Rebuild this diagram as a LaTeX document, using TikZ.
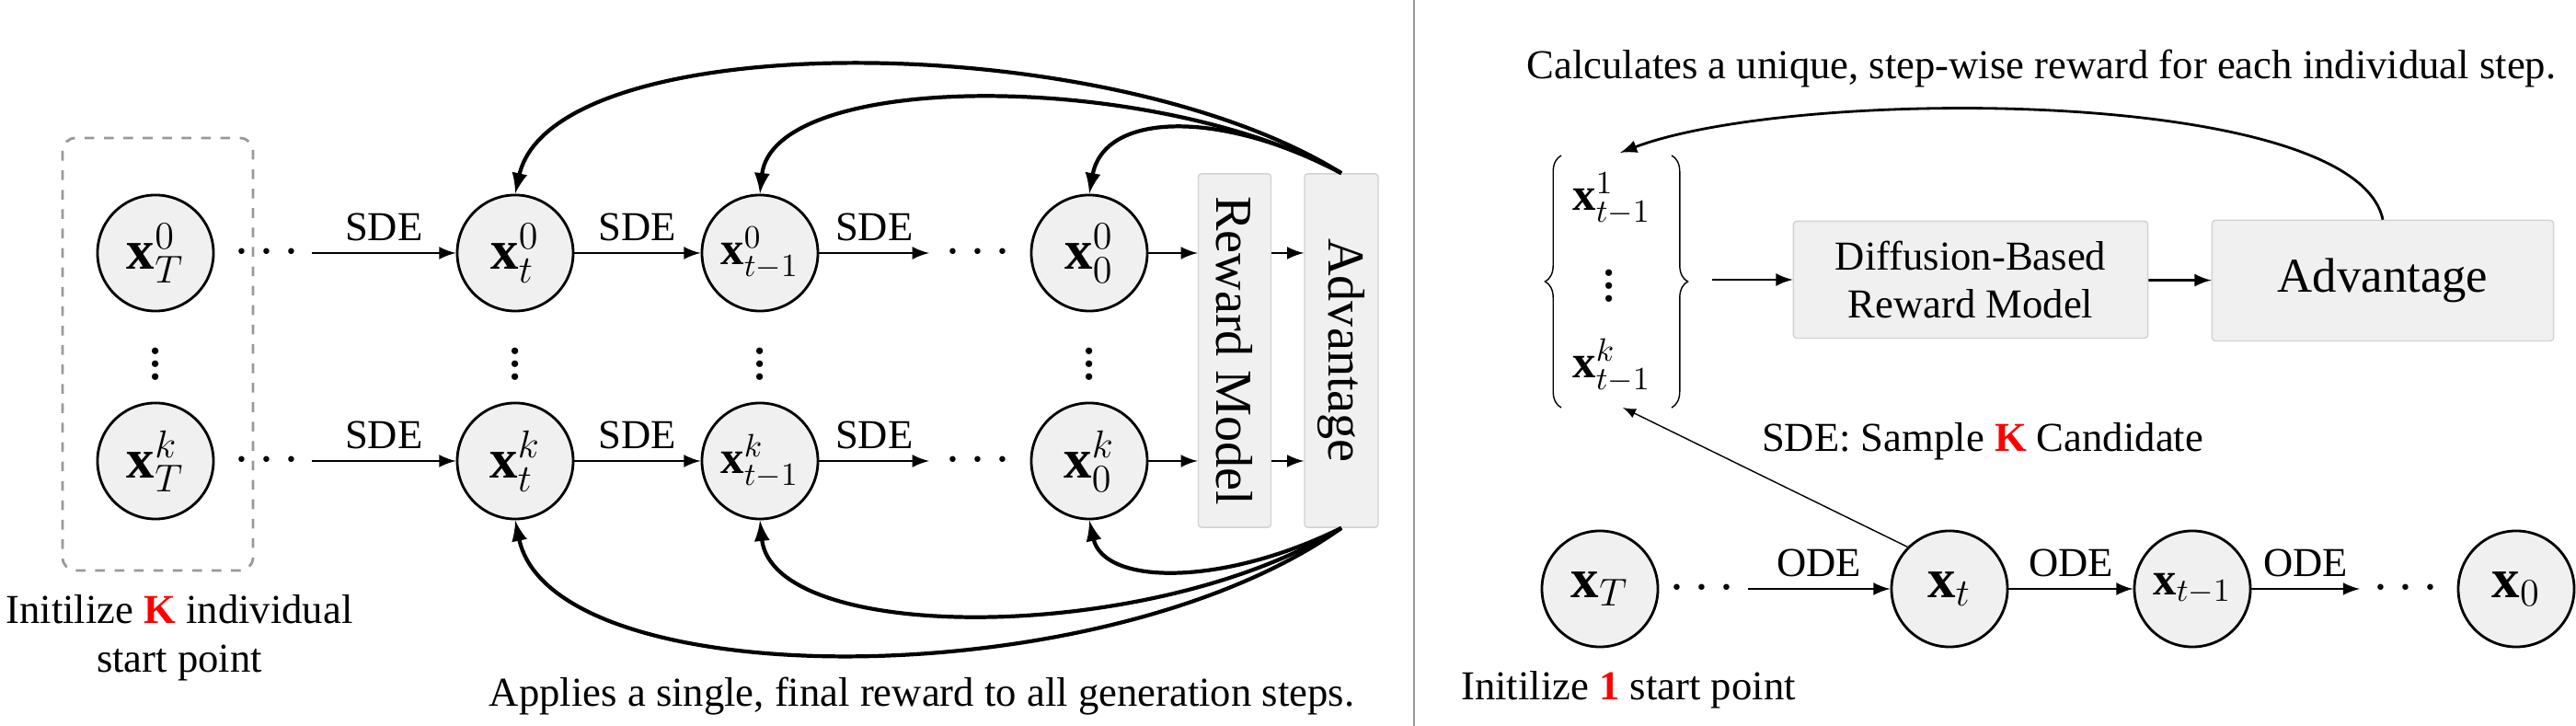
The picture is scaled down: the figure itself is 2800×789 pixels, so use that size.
\documentclass[tikz,border=0pt]{standalone}
\usepackage{fontspec}
\setmainfont{Liberation Serif}
\usetikzlibrary{decorations.pathreplacing}

\begin{document}
\begin{tikzpicture}[x=0.01cm, y=-0.01cm, every node/.style={font=\fontsize{12.7}{15}\selectfont},
    state/.style={draw, thick, circle, fill=gray!12, minimum size=1.26cm, inner sep=0pt, font=\LARGE},
    block/.style={draw=gray!35, fill=gray!12, rounded corners=1pt},
    dots/.style={font=\LARGE, inner sep=0pt},
    flow/.style={thick, -latex},
    back/.style={very thick, -latex}]
  \useasboundingbox (0,0) rectangle (2800,789);
  % Left panel: K start points
  \draw[thick, dashed, gray!80, rounded corners=4pt] (68,150) rectangle (275,620);
  \node[state] (xT0) at (169,275) {$\mathbf{x}_T^0$};
  \node[state] (xTk) at (169,501) {$\mathbf{x}_T^k$};
  \node[state] (xt0) at (560,275) {$\mathbf{x}_t^0$};
  \node[state] (xtk) at (560,501) {$\mathbf{x}_t^k$};
  \node[state, font=\Large] (xs0) at (826,275) {$\mathbf{x}_{t-1}^0$};
  \node[state, font=\Large] (xsk) at (826,501) {$\mathbf{x}_{t-1}^k$};
  \node[state] (xz0) at (1184,275) {$\mathbf{x}_0^0$};
  \node[state] (xzk) at (1184,501) {$\mathbf{x}_0^k$};
  % Reward and Advantage columns
  \node[block, minimum width=0.79cm, minimum height=3.84cm] (rm) at (1342,381) {};
  \node[rotate=-90, font=\fontsize{16}{18}\selectfont] at (rm) {Reward Model};
  \node[block, minimum width=0.8cm, minimum height=3.84cm] (adv) at (1458,381) {};
  \node[rotate=-90, font=\fontsize{16}{18}\selectfont] at (adv) {Advantage};
  % Rows
  \foreach \r/\y in {0/275, k/501} {
    \coordinate (d1\r) at (339,\y);
    \coordinate (d2\r) at (1010,\y);
    \node[dots] at (290,\y) {$\cdots$};
    \node[dots] at (1063,\y) {$\cdots$};
    \draw[flow] (d1\r) -- node[above] {SDE} (xt\r);
    \draw[flow] (xt\r) -- node[above] {SDE} (xs\r);
    \draw[flow] (xs\r) -- node[above] {SDE} (d2\r);
    \draw[flow] (xz\r) -- (rm.west |- xz\r);
    \draw[flow] (rm.east |- xz\r) -- (adv.west |- xz\r);
  }
  % Vertical dots
  \foreach \x in {169, 560, 826, 1184}
    \node[dots] at (\x,385) {$\vdots$};
  % Rewards back to every step
  \draw[back] (adv.north) .. controls (1200,28) and (600,28) .. (xt0.north);
  \draw[back] (adv.north) .. controls (1250,76) and (840,76) .. (xs0.north);
  \draw[back] (adv.north) .. controls (1330,120) and (1200,120) .. (xz0.north);
  \draw[back] (adv.south) .. controls (1200,758) and (600,758) .. (xtk.south);
  \draw[back] (adv.south) .. controls (1250,701) and (840,701) .. (xsk.south);
  \draw[back] (adv.south) .. controls (1330,637) and (1200,637) .. (xzk.south);
  \node[align=center] (initK) at (195,693) {Initilize \textcolor{red}{\textbf{K}} individual\\start point};
  \node (applies) at (1002,757) {Applies a single, final reward to all generation steps.};
  % Separator
  \draw[gray!80] (1537,0) -- (1537,789);
  % Right panel: one start point
  \node (calc) at (2219,75) {Calculates a unique, step-wise reward for each individual step.};
  \node[font=\Large] (c1) at (1752,216) {$\mathbf{x}_{t-1}^1$};
  \node[dots] at (1749,300) {$\vdots$};
  \node[font=\Large] (ck) at (1752,397) {$\mathbf{x}_{t-1}^k$};
  \draw[decorate, decoration={brace, amplitude=5pt}] (1697,443) -- (1697,169);
  \draw[decorate, decoration={brace, amplitude=5pt}] (1817,169) -- (1817,443);
  \coordinate (cand) at (1861,304);
  \coordinate (top) at (1761,166);
  \coordinate (bot) at (1764,443);
  \node[block, minimum width=3.85cm, minimum height=1.27cm, align=center] (drm) at (2142,304) {Diffusion-Based\\Reward Model};
  \node[block, minimum width=3.71cm, minimum height=1.31cm, font=\fontsize{15}{17}\selectfont] (adv2) at (2590,305) {Advantage};
  \draw[flow] (cand) -- (drm);
  \draw[flow] (drm) -- (adv2);
  \draw[thick, -latex] (adv2.north) .. controls (2560,94) and (1950,94) .. (top);
  \node[state] (yT) at (1739,640) {$\mathbf{x}_T$};
  \node[state] (yt) at (2119,640) {$\mathbf{x}_t$};
  \node[state, font=\Large] (ys) at (2383,640) {$\mathbf{x}_{t-1}$};
  \node[state] (yz) at (2735,640) {$\mathbf{x}_0$};
  \coordinate (e1) at (1900,640);
  \coordinate (e2) at (2565,640);
  \node[dots] at (1850,640) {$\cdots$};
  \node[dots] at (2615,640) {$\cdots$};
  \draw[flow] (e1) -- node[above] {ODE} (yt);
  \draw[flow] (yt) -- node[above] {ODE} (ys);
  \draw[flow] (ys) -- node[above] {ODE} (e2);
  \draw[-latex] (yt.north west) -- (bot);
  \node (sample) at (2155,480) {SDE: Sample \textcolor{red}{\textbf{K}} Candidate};
  \node (init1) at (1770,750) {Initilize \textcolor{red}{\textbf{1}} start point};
\end{tikzpicture}
\end{document}
